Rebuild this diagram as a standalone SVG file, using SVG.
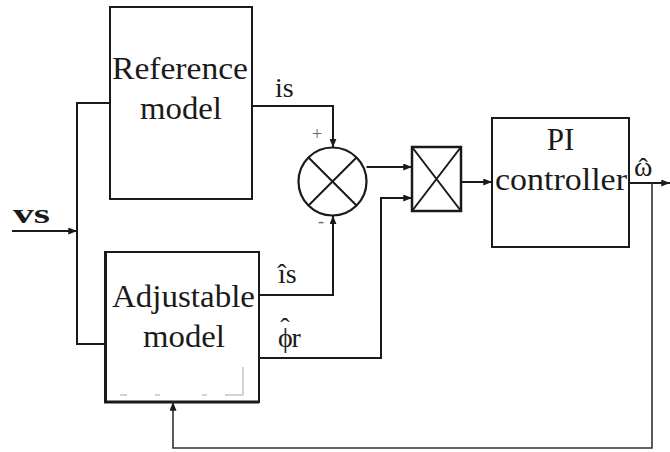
<svg xmlns="http://www.w3.org/2000/svg" width="670" height="452" viewBox="0 0 670 452">
<style>
.box{fill:#fff;stroke:#1a1a1a;stroke-width:2}
.ln{fill:none;stroke:#1a1a1a;stroke-width:2}
.fb{fill:none;stroke:#333;stroke-width:1.6}
text{font-family:'Liberation Serif','Times New Roman',Times,serif;fill:#1a1a1a}
.t{font-size:31px}
.s{font-size:28px}
.sg{font-size:18px;fill:#666}
.art{fill:none;stroke:#aaa;stroke-width:1}
</style>
<defs>
<marker id="ah" viewBox="0 0 10 8" refX="10" refY="4" markerWidth="9" markerHeight="7" markerUnits="userSpaceOnUse" orient="auto">
<path d="M0,0 L10,4 L0,8 Z" fill="#1a1a1a"/>
</marker>
</defs>
<g id="reference-model">
<rect class="box" x="110" y="7" width="142" height="192"/>
<text class="t" x="112" y="79" textLength="136" lengthAdjust="spacingAndGlyphs">Reference</text>
<text class="t" x="140" y="119" textLength="82" lengthAdjust="spacingAndGlyphs">model</text>
</g>
<g id="adjustable-model">
<rect class="box" x="105" y="252" width="154" height="150"/>
<path d="M105.5,252 V402 H259" fill="none" stroke="#1a1a1a" stroke-width="3"/>
<text class="t" x="112" y="307" textLength="143" lengthAdjust="spacingAndGlyphs">Adjustable</text>
<text class="t" x="143" y="347" textLength="82" lengthAdjust="spacingAndGlyphs">model</text>
<path class="art" d="M243,367 V395 M120,395 H127 M155,395 H160 M202,395 H207 M225,395 H243"/>
</g>
<g id="comparator">
<circle cx="332.5" cy="181.5" r="34" fill="#fff" stroke="#1a1a1a" stroke-width="2.2"/>
<path class="ln" d="M308.5,157.5 L356.5,205.5 M356.5,157.5 L308.5,205.5"/>
<text class="sg" x="312" y="140">+</text>
<text class="sg" x="318" y="227">-</text>
</g>
<g id="multiplier">
<rect x="412" y="147" width="49" height="64" fill="#fff" stroke="#1a1a1a" stroke-width="2.5"/>
<path class="ln" d="M412,147 L461,211 M461,147 L412,211"/>
</g>
<g id="pi-controller">
<rect class="box" x="492" y="118" width="137" height="129"/>
<text class="t" x="560.5" y="150" text-anchor="middle">PI</text>
<text class="t" x="495" y="190" textLength="132" lengthAdjust="spacingAndGlyphs">controller</text>
</g>
<g id="connectors">
<path class="ln" d="M12,231 H77" marker-end="url(#ah)"/>
<path class="ln" d="M110,103 H77 V344 H105"/>
<path class="ln" d="M252,106 H333 V147.5" marker-end="url(#ah)"/>
<path class="ln" d="M259,295 H333 V215.5" marker-end="url(#ah)"/>
<path class="ln" d="M366.5,167 H412" marker-end="url(#ah)"/>
<path class="ln" d="M259,358 H381 V198 H412" marker-end="url(#ah)"/>
<path class="ln" d="M461,182 H492" marker-end="url(#ah)"/>
<path class="ln" d="M629,183 H670" marker-end="url(#ah)"/>
<path class="fb" d="M652,183 V448 H173 V402" marker-end="url(#ah)"/>
</g>
<g id="labels">
<text class="s" x="13" y="223" textLength="37" lengthAdjust="spacingAndGlyphs" font-weight="bold">vs</text>
<text class="s" x="275" y="97">is</text>
<text class="s" x="278" y="283">&#238;s</text>
<text class="s" x="278" y="347">&#981;<tspan dx="-12.5" dy="-10">&#710;</tspan><tspan dx="2" dy="10">r</tspan></text>
<text class="s" x="634" y="176">&#969;<tspan dx="-14" dy="1">&#710;</tspan></text>
</g>
</svg>
